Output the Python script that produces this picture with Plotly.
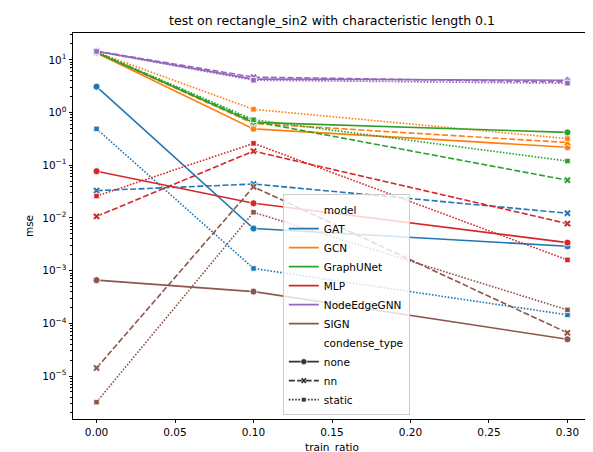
import plotly.graph_objects as go

# ---- data ----
train_ratio = [0.0, 0.1, 0.3]
models = ["GAT", "GCN", "GraphUNet", "MLP", "NodeEdgeGNN", "SIGN"]
condense_types = ["none", "nn", "static"]

gat_none = [3.1, 0.0063, 0.0029]
gat_nn = [0.033, 0.044, 0.0123]
gat_static = [0.49, 0.0011, 0.000145]

gcn_none = [13.5, 0.49, 0.22]
gcn_nn = [13.8, 0.62, 0.27]
gcn_static = [14.0, 1.15, 0.32]

graphunet_none = [13.7, 0.65, 0.42]
graphunet_nn = [13.9, 0.68, 0.052]
graphunet_static = [14.0, 0.73, 0.12]

mlp_none = [0.077, 0.019, 0.0034]
mlp_nn = [0.0107, 0.185, 0.0078]
mlp_static = [0.026, 0.26, 0.0016]

nodeedgegnn_none = [14.5, 4.3, 4.1]
nodeedgegnn_nn = [14.6, 4.7, 3.8]
nodeedgegnn_static = [14.4, 4.1, 3.6]

sign_none = [0.00066, 0.0004, 0.00005]
sign_nn = [0.0000142, 0.039, 0.000066]
sign_static = [0.0000032, 0.0128, 0.00018]

x_ticks = [0.0, 0.05, 0.10, 0.15, 0.20, 0.25, 0.30]
y_tick_exps = [-5, -4, -3, -2, -1, 0, 1]

series = {
    "GAT": {"none": gat_none, "nn": gat_nn, "static": gat_static},
    "GCN": {"none": gcn_none, "nn": gcn_nn, "static": gcn_static},
    "GraphUNet": {"none": graphunet_none, "nn": graphunet_nn, "static": graphunet_static},
    "MLP": {"none": mlp_none, "nn": mlp_nn, "static": mlp_static},
    "NodeEdgeGNN": {"none": nodeedgegnn_none, "nn": nodeedgegnn_nn, "static": nodeedgegnn_static},
    "SIGN": {"none": sign_none, "nn": sign_nn, "static": sign_static},
}

# ---- styles ----
colors = {
    "GAT": "#1f77b4", "GCN": "#ff7f0e", "GraphUNet": "#2ca02c",
    "MLP": "#d62728", "NodeEdgeGNN": "#9467bd", "SIGN": "#8c564b",
}
dashes = {"none": "solid", "nn": "6px,2.4px", "static": "1.6px,1.6px"}
symbols = {"none": "circle", "nn": "x", "static": "square"}
sizes = {"none": 7, "nn": 6.5, "static": 5.5}

FONT = "DejaVu Sans"
fig = go.Figure()

for m in models:
    for c in condense_types:
        fig.add_trace(go.Scatter(
            x=train_ratio, y=series[m][c], mode="lines+markers",
            line=dict(color=colors[m], width=1.6, dash=dashes[c]),
            marker=dict(symbol=symbols[c], size=sizes[c], color=colors[m],
                        line=dict(color="white", width=0.8)),
            showlegend=False, hoverinfo="x+y+name", name=f"{m} {c}",
        ))

# legend entries (seaborn-style)
fig.add_trace(go.Scatter(x=[None], y=[None], mode="lines", name="model",
                         line=dict(width=0, color="rgba(0,0,0,0)")))
for m in models:
    fig.add_trace(go.Scatter(x=[None], y=[None], mode="lines", name=m,
                             line=dict(color=colors[m], width=1.6)))
fig.add_trace(go.Scatter(x=[None], y=[None], mode="lines", name="condense_type",
                         line=dict(width=0, color="rgba(0,0,0,0)")))
for c in condense_types:
    fig.add_trace(go.Scatter(x=[None], y=[None], mode="lines+markers", name=c,
                             line=dict(color="#333333", width=1.6, dash=dashes[c]),
                             marker=dict(symbol=symbols[c], size=sizes[c] - 1, color="#333333",
                                         line=dict(color="white", width=0.6))))

minor_vals = [k * 10.0 ** e for e in range(-6, 2) for k in range(2, 10)]

fig.update_layout(
    width=593, height=452,
    margin=dict(l=65, r=10, t=25, b=41),
    paper_bgcolor="white", plot_bgcolor="white",
    font=dict(family=FONT, size=10.5, color="black"),
    title=dict(text="test on rectangle_sin2 with characteristic length 0.1",
               x=0.5, xref="paper", xanchor="center", y=1 - 13 / 452, yanchor="middle",
               font=dict(family=FONT, size=12.5, color="black")),
    legend=dict(x=0.405, y=0.01, xanchor="left", yanchor="bottom",
                bgcolor="rgba(255,255,255,0.8)", bordercolor="#cccccc", borderwidth=1,
                font=dict(family=FONT, size=10.5, color="black"),
                tracegroupgap=0, itemwidth=30),
    showlegend=True,
)
fig.update_xaxes(
    range=[-0.015, 0.315], tickvals=x_ticks,
    ticktext=[f"{v:.2f}" for v in x_ticks],
    showline=True, mirror=True, linecolor="black", linewidth=0.9,
    ticks="outside", ticklen=3.5, tickwidth=0.9, tickcolor="black",
    showgrid=False, zeroline=False,
    title=dict(text="train_ratio", standoff=6, font=dict(family=FONT, size=10.5)),
)
fig.update_yaxes(
    type="log", range=[-5.815, 1.509],
    tickvals=[10.0 ** e for e in y_tick_exps],
    ticktext=[f"10<sup>{e}</sup>".replace("-", "\u2212") for e in y_tick_exps],
    showline=True, mirror=True, linecolor="black", linewidth=0.9,
    ticks="outside", ticklen=3.5, tickwidth=0.9, tickcolor="black",
    minor=dict(tickmode="array", tickvals=minor_vals, ticks="outside", ticklen=2,
               tickwidth=0.6, tickcolor="black", showgrid=False),
    showgrid=False, zeroline=False,
    title=dict(text="mse", standoff=6, font=dict(family=FONT, size=10.5)),
)

fig.write_html("out.html")
